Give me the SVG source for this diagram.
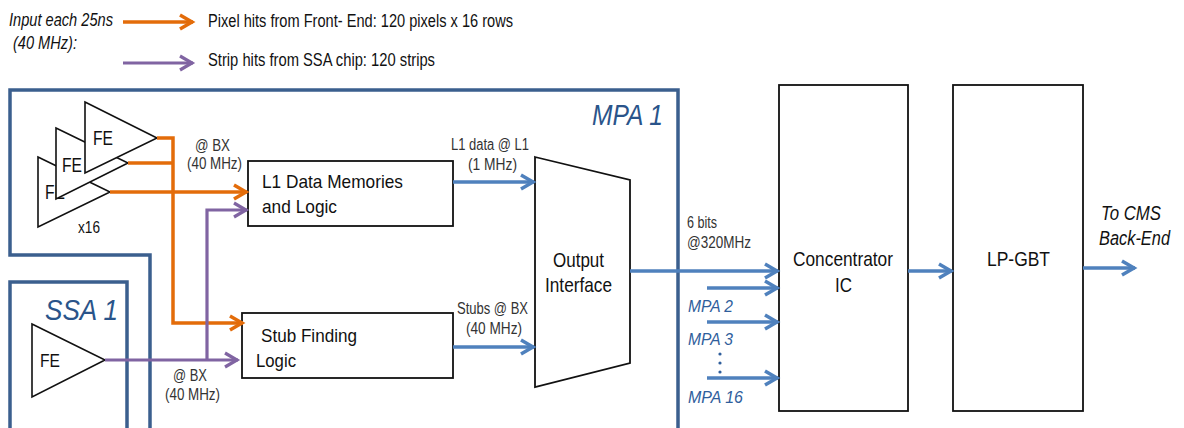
<svg xmlns="http://www.w3.org/2000/svg" width="1184" height="428" viewBox="0 0 1184 428">
<defs>
<style>
text{font-family:"Liberation Sans",Arial,sans-serif;fill:#111}
.it{font-style:italic}
.lbl{font-size:16px;fill:#333}
.box{fill:#fff;stroke:#111;stroke-width:1.8}
.tri{fill:#fff;stroke:#111;stroke-width:1.6}
.border{fill:none;stroke:#3B5F8E;stroke-width:3.5}
.big{font-size:30px;font-style:italic;fill:#2A548A}
.mpa{font-size:17px;font-style:italic;fill:#2F5E9C}
.o{fill:none;stroke:#E36C0A;stroke-width:3.5}
.p{fill:none;stroke:#8064A2;stroke-width:3.2}
.b{fill:none;stroke:#4F81BD;stroke-width:3.5}
</style>
<marker id="ao" viewBox="-16 -10 20 20" refX="1" refY="0" markerWidth="20" markerHeight="20" markerUnits="userSpaceOnUse" orient="auto"><path d="M-12,-7 L0,0 L-12,7" fill="none" stroke="#E36C0A" stroke-width="3.5"/></marker>
<marker id="ap" viewBox="-16 -10 20 20" refX="1" refY="0" markerWidth="20" markerHeight="20" markerUnits="userSpaceOnUse" orient="auto"><path d="M-12,-7 L0,0 L-12,7" fill="none" stroke="#8064A2" stroke-width="3.2"/></marker>
<marker id="ab" viewBox="-16 -10 20 20" refX="1" refY="0" markerWidth="20" markerHeight="20" markerUnits="userSpaceOnUse" orient="auto"><path d="M-12,-7 L0,0 L-12,7" fill="none" stroke="#4F81BD" stroke-width="3.5"/></marker>
</defs>
<rect width="1184" height="428" fill="#fff"/>

<g id="legend">
<text class="it" x="9" y="26" font-size="18" textLength="104" lengthAdjust="spacingAndGlyphs">Input each 25ns</text>
<text class="it" x="13" y="49" font-size="18" textLength="64" lengthAdjust="spacingAndGlyphs">(40 MHz):</text>
<path class="o" d="M123,22 H193" marker-end="url(#ao)"/>
<path class="p" d="M123,63 H193" marker-end="url(#ap)"/>
<text x="208" y="27" font-size="18" textLength="305" lengthAdjust="spacingAndGlyphs">Pixel hits from Front- End: 120 pixels x 16 rows</text>
<text x="208" y="66" font-size="18" textLength="227" lengthAdjust="spacingAndGlyphs">Strip hits from SSA chip: 120 strips</text>
</g>

<g id="mpa1">
<path class="border" d="M150,428 V255 H10 V90 H678 V428"/>
<text class="big" x="592" y="125" textLength="71" lengthAdjust="spacingAndGlyphs">MPA 1</text>
</g>

<g id="ssa1">
<path class="border" d="M10,428 V282 H127 V428"/>
<text class="big" x="45" y="320" textLength="73" lengthAdjust="spacingAndGlyphs">SSA 1</text>
</g>

<g id="fe-stack">
<polygon class="tri" points="38,157 110,192 38,227"/>
<text x="45" y="199" font-size="21" textLength="20" lengthAdjust="spacingAndGlyphs">FE</text>
<polygon class="tri" points="56,128 128,163 56,199"/>
<text x="62" y="172" font-size="21" textLength="20" lengthAdjust="spacingAndGlyphs">FE</text>
<polygon class="tri" points="85,102 157,138 85,173"/>
<text x="93" y="145" font-size="21" textLength="20" lengthAdjust="spacingAndGlyphs">FE</text>
<text x="78" y="233" font-size="16" fill="#333" textLength="22" lengthAdjust="spacingAndGlyphs">x16</text>
</g>

<g id="ssa-fe">
<polygon class="tri" points="32,324 105,360 32,397"/>
<text x="40" y="367" font-size="19" textLength="20" lengthAdjust="spacingAndGlyphs">FE</text>
</g>

<g id="l1-data">
<rect class="box" x="248" y="161" width="205" height="65"/>
<text x="262" y="188" font-size="19" textLength="141" lengthAdjust="spacingAndGlyphs">L1 Data Memories</text>
<text x="262" y="213" font-size="19" textLength="75" lengthAdjust="spacingAndGlyphs">and Logic</text>
</g>

<g id="stub-finding">
<rect class="box" x="242" y="313" width="211" height="65"/>
<text x="261" y="342" font-size="19" textLength="96" lengthAdjust="spacingAndGlyphs">Stub Finding</text>
<text x="256" y="367" font-size="19" textLength="40" lengthAdjust="spacingAndGlyphs">Logic</text>
</g>

<g id="output-interface">
<polygon class="box" points="535,157 630,180 630,363 535,387"/>
<text x="553" y="267" font-size="21" textLength="51" lengthAdjust="spacingAndGlyphs">Output</text>
<text x="545" y="292" font-size="21" textLength="67" lengthAdjust="spacingAndGlyphs">Interface</text>
</g>

<g id="concentrator">
<rect class="box" x="779" y="85" width="129" height="326"/>
<text x="793" y="266" font-size="21" textLength="100" lengthAdjust="spacingAndGlyphs">Concentrator</text>
<text x="835" y="292" font-size="21" textLength="17" lengthAdjust="spacingAndGlyphs">IC</text>
</g>

<g id="lp-gbt">
<rect class="box" x="953" y="85" width="130" height="326"/>
<text x="987" y="266" font-size="21" textLength="63" lengthAdjust="spacingAndGlyphs">LP-GBT</text>
</g>

<g id="connectors">
<path class="o" d="M157,138 H173 V323 H243" marker-end="url(#ao)"/>
<path class="o" d="M128,163 H173"/>
<path class="o" d="M110,192 H247" marker-end="url(#ao)"/>
<path class="p" d="M105,360 H238" marker-end="url(#ap)"/>
<path class="p" d="M207,360 V210 H247" marker-end="url(#ap)"/>
<path class="b" d="M453,182 H534" marker-end="url(#ab)"/>
<path class="b" d="M453,347 H534" marker-end="url(#ab)"/>
<path class="b" d="M630,271 H778" marker-end="url(#ab)"/>
<path class="b" d="M707,288 H778" marker-end="url(#ab)"/>
<path class="b" d="M707,322 H778" marker-end="url(#ab)"/>
<path class="b" d="M707,378 H778" marker-end="url(#ab)"/>
<path class="b" d="M908,271 H952" marker-end="url(#ab)"/>
<path class="b" d="M1083,268 H1135" marker-end="url(#ab)"/>
<text class="lbl" x="195" y="151" textLength="35" lengthAdjust="spacingAndGlyphs">@ BX</text>
<text class="lbl" x="187" y="169" textLength="55" lengthAdjust="spacingAndGlyphs">(40 MHz)</text>
<text class="lbl" x="173" y="381" textLength="34" lengthAdjust="spacingAndGlyphs">@ BX</text>
<text class="lbl" x="165" y="400" textLength="55" lengthAdjust="spacingAndGlyphs">(40 MHz)</text>
<text class="lbl" x="451" y="150" textLength="78" lengthAdjust="spacingAndGlyphs">L1 data @ L1</text>
<text class="lbl" x="468" y="170" textLength="49" lengthAdjust="spacingAndGlyphs">(1 MHz)</text>
<text class="lbl" x="457" y="314" textLength="71" lengthAdjust="spacingAndGlyphs">Stubs @ BX</text>
<text class="lbl" x="466" y="334" textLength="56" lengthAdjust="spacingAndGlyphs">(40 MHz)</text>
<text class="lbl" x="687" y="228" textLength="30" lengthAdjust="spacingAndGlyphs">6 bits</text>
<text class="lbl" x="687" y="248" textLength="64" lengthAdjust="spacingAndGlyphs">@320MHz</text>
<text class="mpa" x="688" y="312" textLength="45" lengthAdjust="spacingAndGlyphs">MPA 2</text>
<text class="mpa" x="688" y="345" textLength="45" lengthAdjust="spacingAndGlyphs">MPA 3</text>
<text class="mpa" x="688" y="403" textLength="55" lengthAdjust="spacingAndGlyphs">MPA 16</text>
<circle cx="720" cy="354" r="1.6" fill="#2F5E9C"/>
<circle cx="720" cy="363" r="1.6" fill="#2F5E9C"/>
<circle cx="720" cy="372" r="1.6" fill="#2F5E9C"/>
<text class="it" x="1101" y="220" font-size="20" textLength="60" lengthAdjust="spacingAndGlyphs">To CMS</text>
<text class="it" x="1099" y="245" font-size="20" textLength="71" lengthAdjust="spacingAndGlyphs">Back-End</text>
</g>
</svg>
